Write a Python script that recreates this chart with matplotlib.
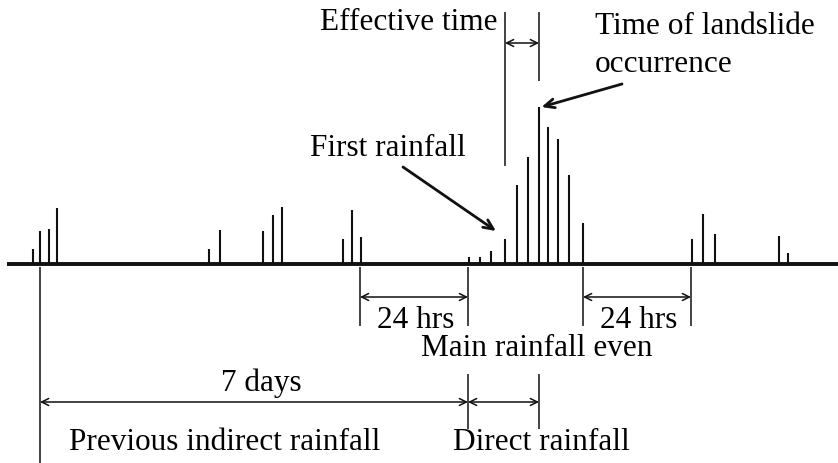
import matplotlib
matplotlib.use("Agg")
import matplotlib.pyplot as plt

# ---- data (schematic time axis units, rainfall heights in arbitrary units) ----
rain_time = [33, 40, 48.5, 57, 209, 220, 263, 273, 282, 343, 352, 361,
             469, 480, 491, 505, 517, 528, 539, 548, 558, 569, 583,
             692, 703, 715, 779, 788]
rain_depth = [15, 33, 35, 56, 15, 34, 33, 49, 57, 25, 54, 27,
              7, 7, 13, 25, 79, 107, 157, 137, 125, 89, 41,
              25, 50, 30, 28, 11]

# key time marks
t_7days_start = 40
t_24h_before = 360
t_event_start = 468
t_first_rain = 505
t_landslide = 539
t_event_end = 583
t_24h_after = 691

labels = {
    "eff": "Effective time",
    "land1": "Time of landslide",
    "land2": "occurrence",
    "first": "First rainfall",
    "h24": "24 hrs",
    "main": "Main rainfall even",
    "days": "7 days",
    "prev": "Previous indirect rainfall",
    "direct": "Direct rainfall",
}

W, H = 838, 464
fig = plt.figure(figsize=(W / 100, H / 100), dpi=100)
ax = fig.add_axes([0, 0, 1, 1])
ax.set_xlim(0, W)
ax.set_ylim(-199, 265)
ax.axis("off")

FONT = "Liberation Serif"
FS = 22.5
lw_bar = 1.5
lw_ann = 1.1
k = "#111111"

# baseline
ax.plot([7, W], [0, 0], color=k, lw=2.8, solid_capstyle="butt")
# rainfall bars
ax.vlines(rain_time, 0, rain_depth, colors=k, lw=lw_bar)

def dbl_arrow(x0, x1, y):
    ax.annotate("", xy=(x1, y), xytext=(x0, y),
                arrowprops=dict(arrowstyle="<->,head_length=0.5,head_width=0.25",
                                color=k, lw=lw_ann, shrinkA=0, shrinkB=0))

def one_arrow(x0, y0, x1, y1):
    ax.annotate("", xy=(x1, y1), xytext=(x0, y0),
                arrowprops=dict(arrowstyle="->,head_length=0.7,head_width=0.32",
                                color=k, lw=2.0, shrinkA=0, shrinkB=0))

# effective time
ax.vlines([t_first_rain], 98, 252, colors=k, lw=lw_ann)
ax.vlines([t_landslide], 183, 252, colors=k, lw=lw_ann)
dbl_arrow(t_first_rain, t_landslide, 221)
ax.text(497, 243, labels["eff"], ha="right", va="center", family=FONT, fontsize=FS)

# landslide label & arrow
ax.text(595, 239, labels["land1"], ha="left", va="center", family=FONT, fontsize=FS)
ax.text(595, 200, labels["land2"], ha="left", va="center", family=FONT, fontsize=FS)
one_arrow(622, 180, 541.5, 157)

# first rainfall
ax.text(310, 116, labels["first"], ha="left", va="center", family=FONT, fontsize=FS)
one_arrow(403, 97, 496, 33)

# 24 hrs brackets
for a, b in [(t_24h_before, t_event_start), (t_event_end, t_24h_after)]:
    ax.vlines([a, b], -62, -3, colors=k, lw=lw_ann)
    dbl_arrow(a, b, -33)
    ax.text((a + b) / 2 + 2, -56, labels["h24"], ha="center", va="center",
            family=FONT, fontsize=FS)

ax.text(537, -84, labels["main"], ha="center", va="center", family=FONT, fontsize=FS)

# 7 days / direct
ax.vlines([t_7days_start], -199, -3, colors=k, lw=lw_ann)
ax.vlines([t_event_start, t_landslide], -165, -110, colors=k, lw=lw_ann)
dbl_arrow(t_7days_start, t_event_start, -138)
dbl_arrow(t_event_start, t_landslide, -138)
ax.text(261, -118, labels["days"], ha="center", va="center", family=FONT, fontsize=FS)
ax.text(225, -178, labels["prev"], ha="center", va="center", family=FONT, fontsize=FS)
ax.text(541, -178, labels["direct"], ha="center", va="center", family=FONT, fontsize=FS)

fig.savefig("out.png", dpi=100, facecolor="white")
